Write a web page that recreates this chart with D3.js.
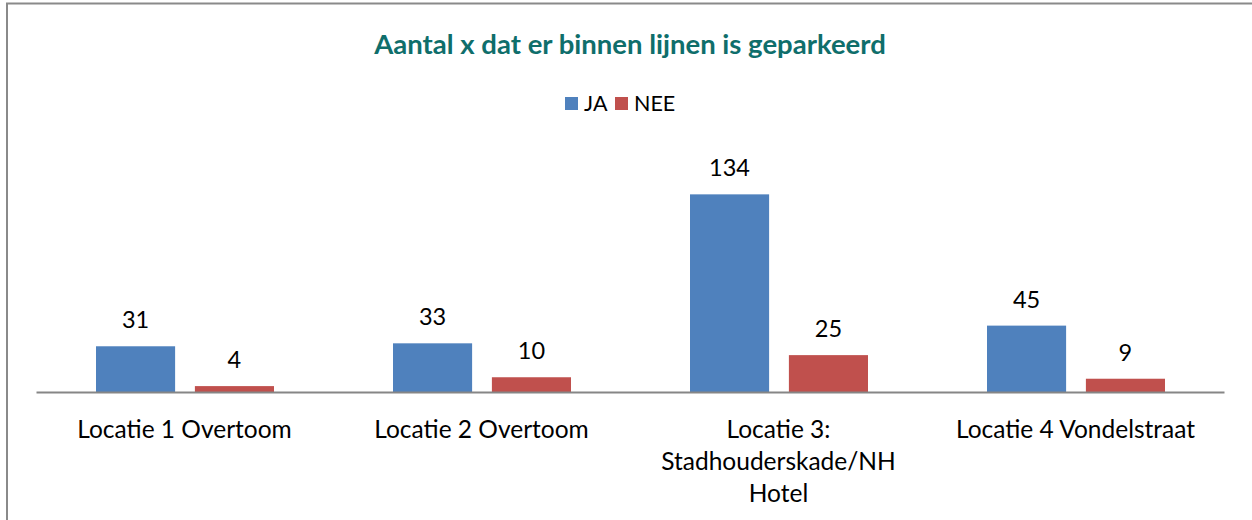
<!DOCTYPE html>
<html>
<head>
<meta charset="utf-8">
<script src="https://cdn.jsdelivr.net/npm/d3@7"></script>
<style>
    body { margin: 0; background: #fff; }
    text { font-family: Lato, 'Open Sans', sans-serif; fill: #000; }
    .chart-title { font-weight: bold; fill: #0f6e6b; }
    .x-axis path { stroke: #868686; stroke-width: 2; }
</style>
</head>
<body>
<div id="content"></div>
<script>
const CATEGORIES = ['Locatie 1 Overtoom', 'Locatie 2 Overtoom', 'Locatie 3: Stadhouderskade/NH Hotel', 'Locatie 4 Vondelstraat'];
const SERIES = ['JA', 'NEE'];
const JA = [31, 33, 134, 45];
const NEE = [4, 10, 25, 9];
const COLORS = ['#4f81bd', '#c0504d'];

var width = 1252;
var height = 520;

var svg = d3.select('#content')
.append('svg')
.attr('width', width)
.attr('height', height);

// chart frame (only left and top edges are visible)
svg.append('path')
.attr('d', 'M7,520 V3.5 H1252')
.attr('fill', 'none')
.attr('stroke', '#8a8a8a')
.attr('stroke-width', 2);

svg.append('text')
.attr('class', 'chart-title')
.attr('x', 630)
.attr('y', 54)
.attr('text-anchor', 'middle')
.style('font-size', '27.5px')
.text('Aantal x dat er binnen lijnen is geparkeerd');

var rows = CATEGORIES.map(function (c, i) {
    return {category: c, values: [JA[i], NEE[i]]};
});

var xScale = d3.scaleBand()
.domain(CATEGORIES)
.range([36, 1224]);

var xInner = d3.scaleBand()
.domain(SERIES)
.range([60, 238])
.paddingInner(0.2);

var yScale = d3.scaleLinear()
.domain([0, 160])
.range([392, 156]);

var colour = d3.scaleOrdinal()
.domain(SERIES)
.range(COLORS);

var groups = svg.selectAll('.group')
.data(rows)
.enter()
.append('g')
.attr('class', 'group')
.attr('transform', function (b) {return 'translate(' + (xScale(b.category) - 36) + ', 0)'});

groups.selectAll('rect')
.data(function (b) {return b.values.map(function (v, i) {return {key: SERIES[i], value: v}})})
.enter()
.append('rect')
.attr('x', function (b) {return 36 + xInner(b.key)})
.attr('width', xInner.bandwidth())
.attr('y', function (b) {return yScale(b.value)})
.attr('height', function (b) {return yScale(0) - yScale(b.value)})
.attr('fill', function (b) {return colour(b.key)});

groups.selectAll('.bar-label')
.data(function (b) {return b.values.map(function (v, i) {return {key: SERIES[i], value: v}})})
.enter()
.append('text')
.attr('class', 'bar-label')
.attr('x', function (b) {return 36 + xInner(b.key) + xInner.bandwidth() / 2})
.attr('y', function (b) {return yScale(b.value) - 18})
.attr('text-anchor', 'middle')
.style('font-size', '23.5px')
.text(function (b) {return b.value});

var xAxis = d3.axisBottom()
.scale(xScale)
.tickSize(0)
.tickSizeOuter(0);

var axisG = svg.append('g')
.attr('class', 'x-axis')
.attr('transform', 'translate(0, 392)')
.call(xAxis);

axisG.selectAll('.tick text')
.style('font-size', '24.5px')
.attr('font-family', null)
.call(wrap, 250);

// legend
var legend = svg.append('g')
.attr('class', 'legend');

var legendX = [565, 615];
var legendItems = legend.selectAll('g')
.data(SERIES)
.enter()
.append('g')
.attr('transform', function (b, i) {return 'translate(' + legendX[i] + ', 97)'});

legendItems.append('rect')
.attr('width', 13)
.attr('height', 13)
.attr('fill', function (b) {return colour(b)});

legendItems.append('text')
.attr('x', 19)
.attr('y', 14)
.style('font-size', '21.5px')
.text(function (b) {return b});

function wrap(selection, maxWidth) {
    selection.each(function () {
        var text = d3.select(this);
        var words = text.text().split(/\s+/);
        var lines = [];
        var line = [];
        text.text(null);
        var probe = text.append('tspan');
        words.forEach(function (w) {
            line.push(w);
            probe.text(line.join(' '));
            if (probe.node().getComputedTextLength() > maxWidth && line.length > 1) {
                line.pop();
                lines.push(line.join(' '));
                line = [w];
            }
        });
        lines.push(line.join(' '));
        probe.remove();
        text.attr('y', 0).attr('dy', null);
        lines.forEach(function (l, i) {
            text.append('tspan')
            .attr('x', 0)
            .attr('y', 46 + i * 32)
            .text(l);
        });
    });
}
</script>
</body>
</html>
